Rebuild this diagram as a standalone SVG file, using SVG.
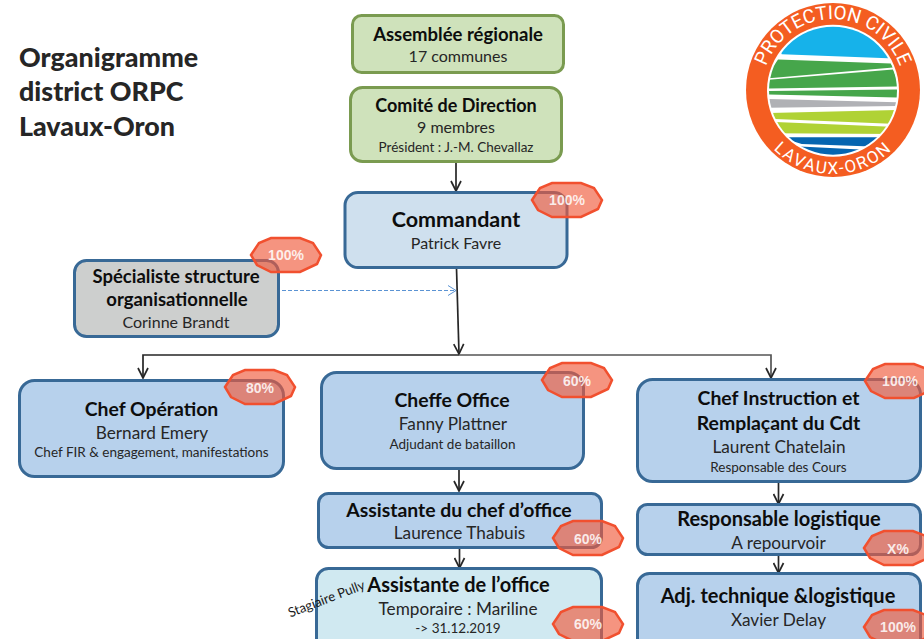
<svg xmlns="http://www.w3.org/2000/svg" width="924" height="639" viewBox="0 0 924 639">
<style>
text{font-family:"Lato","Liberation Sans",sans-serif;text-anchor:middle;fill:#1a1a1a}
.t{font-weight:700;font-size:19.400px;fill:#0d0d0d}
.t2{font-weight:700;font-size:20px;fill:#0d0d0d}
.t1{font-weight:700;font-size:18.500px;fill:#0d0d0d}
.n{font-size:17.200px;fill:#262626}
.n1{font-size:16px;fill:#262626}
.s{font-size:13.500px;fill:#262626}
.h{font-weight:900;font-size:26.800px;text-anchor:start;fill:#262626}
.b{fill:#b7d1ec;stroke:#386996;stroke-width:3}
.g{fill:#cfe2bb;stroke:#7a9b50;stroke-width:3}
.c{fill:#cfe0ee;stroke:#386996;stroke-width:3}
.y{fill:#cdcfce;stroke:#386996;stroke-width:3}
.l{fill:#d0e9f1;stroke:#386996;stroke-width:3}
.badge{fill:#ef5b3c;fill-opacity:.65;stroke:#f1502f;stroke-width:2.500}
.p{font-family:"Liberation Sans",sans-serif;font-weight:700;font-size:14px;fill:#fff;fill-opacity:.85}
.k{fill:none;stroke:#262626;stroke-width:1.700}
.d{fill:none;stroke:#5b93d3;stroke-width:1;stroke-dasharray:4 2}
.lg{font-family:"Roboto","Liberation Sans",sans-serif;font-size:19px;fill:#fff;text-anchor:middle}
.lb{font-size:17px;letter-spacing:1.800px}
</style>
<defs>
<marker id="a" viewBox="0 0 12 12" refX="11" refY="6" markerWidth="12" markerHeight="12" markerUnits="userSpaceOnUse" orient="auto"><path d="M1 1L11 6L1 11" fill="none" stroke="#262626" stroke-width="1.700"/></marker>
<marker id="da" viewBox="0 0 10 12" refX="9" refY="6" markerWidth="10" markerHeight="12" markerUnits="userSpaceOnUse" orient="auto"><path d="M1 1L9 6L1 11" fill="none" stroke="#5b93d3" stroke-width="1"/></marker>
<polygon id="oct" points="-35,0 -27,-12 -15,-17 14,-17 27,-12 35,0 31,9 14,17 -15,17 -29,10"/>
<clipPath id="disc"><circle cx="833" cy="90.700" r="64"/></clipPath>
<path id="arcTop" d="M762 90A71 71 0 0 1 904 90"/>
<path id="arcBot" d="M749 90A84 84 0 0 0 917 90"/>
</defs>

<g id="connectors">
<path class="k" d="M456 162V191" marker-end="url(#a)"/>
<path class="k" d="M456.500 268L459 354" marker-end="url(#a)"/>
<path class="k" d="M459 355H143V378" marker-end="url(#a)"/>
<path class="k" style="stroke:#555" d="M459 355H771V378" marker-end="url(#a)"/>
<path class="k" d="M459 469V491" marker-end="url(#a)"/>
<path class="k" d="M459.500 548V568" marker-end="url(#a)"/>
<path class="k" d="M778.500 482V504" marker-end="url(#a)"/>
<path class="k" d="M778.500 555V573" marker-end="url(#a)"/>
<path class="d" d="M282 290.500H456" marker-end="url(#da)"/>
</g>

<g id="title">
<text class="h" x="19" y="67">Organigramme</text>
<text class="h" x="19" y="101">district ORPC</text>
<text class="h" x="19" y="136">Lavaux-Oron</text>
</g>

<g id="logo">
<circle cx="833" cy="90" r="87" fill="#f45d21"/>
<circle cx="833" cy="90.700" r="66" fill="#fff"/>
<g clip-path="url(#disc)">
<polygon fill="#16b2ea" points="781.700,54.300 888.300,58.300 900,20 770,20"/>
<g fill="#46a64b">
<polygon points="778,59.500 891,63.500 893,67.500 765,78.500"/>
<polygon points="765,80 893,69.500 900,86.500 765,88.500"/>
<polygon points="765,91 900,89.500 900,97.500 765,94.500"/>
</g>
<polygon fill="#b0b1b5" points="765,99 900,102.300 900,106 765,107.700"/>
<g fill="#b0d235">
<polygon points="765,113 900,110 900,124 765,118.500"/>
<polygon points="765,121.500 900,127 900,134 765,133.300"/>
</g>
<g fill="#0565b0">
<polygon points="780,137.300 885,137.300 885,147 801.700,144"/>
<polygon points="790,146 880,150.500 880,165 790,165"/>
</g>
</g>
<text class="lg"><textPath href="#arcTop" startOffset="50%">PROTECTION CIVILE</textPath></text>
<text class="lg lb"><textPath href="#arcBot" startOffset="50%">LAVAUX-ORON</textPath></text>
</g>

<g id="assemblee"><rect class="g" x="352.500" y="15.500" width="211" height="57" rx="9"/>
<text class="t1" x="458" y="41">Assemblée régionale</text><text class="n1" x="458" y="62">17 communes</text></g>

<g id="comite"><rect class="g" x="350.500" y="87.500" width="211" height="74" rx="12"/>
<text class="t1" style="font-size:18px" x="456" y="112">Comité de Direction</text><text class="n1" x="456" y="133">9 membres</text><text class="s" x="456" y="152">Président : J.-M. Chevallaz</text></g>

<g id="commandant"><rect class="c" x="345" y="192.500" width="222" height="75" rx="13"/>
<text class="t" style="font-size:21.500px" x="456" y="227">Commandant</text><text class="n1" x="456" y="249">Patrick Favre</text>
<use href="#oct" class="badge" x="567" y="200"/><text class="p" x="567" y="205">100%</text></g>

<g id="specialiste"><rect class="y" x="74.500" y="260.500" width="204" height="76" rx="12"/>
<text class="t1" x="176" y="283">Spécialiste structure</text><text class="t1" x="177" y="306">organisationnelle</text><text class="n1" x="176" y="328">Corinne Brandt</text>
<use href="#oct" class="badge" x="286" y="255"/><text class="p" x="286" y="260">100%</text></g>

<g id="chef-operation"><rect class="b" x="19.500" y="380.500" width="264" height="96" rx="15"/>
<text class="t" x="151.500" y="416">Chef Opération</text><text class="n" x="152" y="439">Bernard Emery</text><text class="s" x="151.500" y="457">Chef FIR &amp; engagement, manifestations</text>
<use href="#oct" class="badge" x="260" y="387"/><text class="p" x="260" y="393">80%</text></g>

<g id="cheffe-office"><rect class="b" x="321.500" y="372.500" width="262" height="96" rx="15"/>
<text class="t" x="452" y="407">Cheffe Office</text><text class="n" x="453" y="430">Fanny Plattner</text><text class="s" x="452.500" y="449">Adjudant de bataillon</text>
<use href="#oct" class="badge" x="577" y="380"/><text class="p" x="577" y="386">60%</text></g>

<g id="chef-instruction"><rect class="b" x="637.500" y="379.500" width="283" height="102" rx="15"/>
<text class="t" x="778.500" y="405">Chef Instruction et</text><text class="t" x="778.500" y="430">Remplaçant du Cdt</text><text class="n" x="779" y="453">Laurent Chatelain</text><text class="s" x="778.500" y="472">Responsable des Cours</text>
<use href="#oct" class="badge" x="900" y="381"/><text class="p" x="900" y="386">100%</text></g>

<g id="responsable-logistique"><rect class="b" x="637.500" y="504.500" width="283" height="50" rx="10"/>
<text class="t2" x="779" y="526">Responsable logistique</text><text class="n" x="778.500" y="549">A repourvoir</text>
<use href="#oct" class="badge" x="899" y="548"/><text class="p" x="898" y="554">X%</text></g>

<g id="adj-technique"><rect class="b" x="637.500" y="573.500" width="283" height="80" rx="12"/>
<text class="t2" x="778" y="603">Adj. technique &amp;logistique</text><text class="n" x="778.500" y="626">Xavier Delay</text>
<use href="#oct" class="badge" x="899" y="627"/><text class="p" x="898" y="632">100%</text></g>

<g id="assistante-chef"><rect class="b" x="318.500" y="493.500" width="283" height="54" rx="10"/>
<text class="t" x="459" y="517">Assistante du chef d’office</text><text class="n" x="459.500" y="539">Laurence Thabuis</text>
<use href="#oct" class="badge" x="588" y="538"/><text class="p" x="588" y="544">60%</text></g>

<g id="assistante-office"><rect class="l" x="316.500" y="568.500" width="285" height="85" rx="12"/>
<text class="t2" x="458.500" y="592">Assistante de l’office</text><text class="n" x="458" y="615">Temporaire : Mariline</text><text class="s" x="458" y="633">-&gt; 31.12.2019</text>
<use href="#oct" class="badge" x="588" y="624"/><text class="p" x="588" y="629">60%</text></g>

<text id="stagiaire" x="328" y="603" transform="rotate(-21 328 603)" style="font-size:13.200px">Stagiaire Pully</text>
</svg>
